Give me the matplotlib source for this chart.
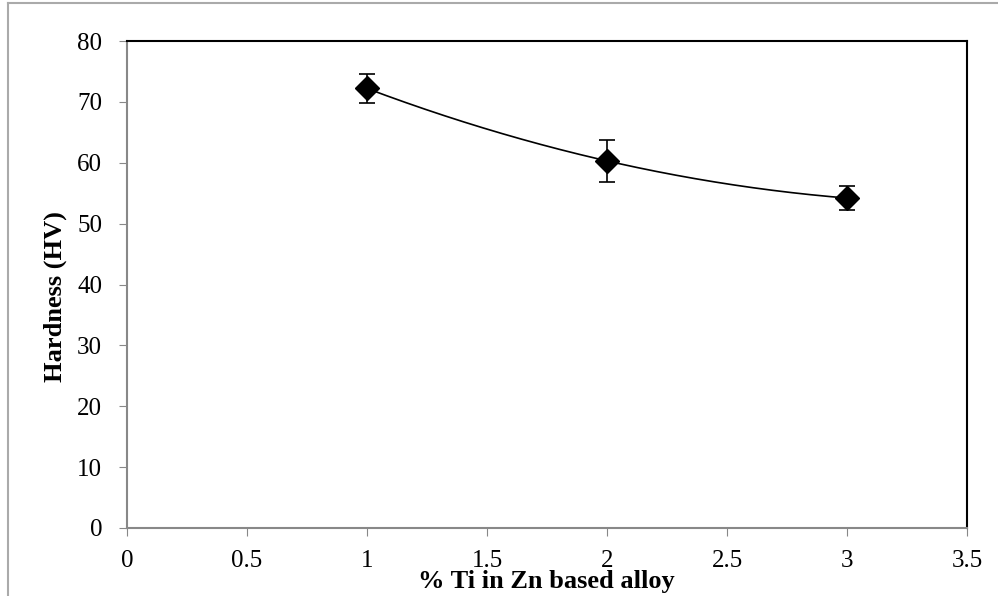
import numpy as np
import matplotlib.pyplot as plt
from matplotlib.lines import Line2D

ti_pct = [1, 2, 3]
hardness = [72.2, 60.3, 54.2]
err_low = [2.4, 3.5, 2.0]
err_high = [2.3, 3.4, 1.9]

x_ticks = [0, 0.5, 1, 1.5, 2, 2.5, 3, 3.5]
x_tick_labels = ['0', '0.5', '1', '1.5', '2', '2.5', '3', '3.5']
y_ticks = [0, 10, 20, 30, 40, 50, 60, 70, 80]

plt.rcParams['font.family'] = ['Liberation Serif', 'DejaVu Serif']

fig = plt.figure(figsize=(9.98, 5.96), dpi=100)
ax = fig.add_axes([0.1273, 0.1141, 0.8417, 0.8171])

# smooth line through the points (like Excel's smoothed line)
coef = np.polyfit(ti_pct, hardness, 2)
xs = np.linspace(ti_pct[0], ti_pct[-1], 200)
ax.plot(xs, np.polyval(coef, xs), color='black', lw=1.2, zorder=2)

ax.errorbar(ti_pct, hardness, yerr=[err_low, err_high], fmt='D', color='black',
            ms=12, ecolor='black', elinewidth=1.2, capsize=6, capthick=1.2, zorder=3)

ax.set_xlim(0, 3.5)
ax.set_ylim(0, 80)
ax.set_xticks(x_ticks)
ax.set_xticklabels(x_tick_labels)
ax.set_yticks(y_ticks)
ax.tick_params(labelsize=18, direction='out', length=6, color='#888888')
ax.tick_params(axis='x', pad=10)
ax.tick_params(axis='y', pad=12)

for side in ['left', 'bottom']:
    ax.spines[side].set_color('#888888')
    ax.spines[side].set_linewidth(1.5)
for side in ['top', 'right']:
    ax.spines[side].set_color('black')
    ax.spines[side].set_linewidth(1.5)

fig.text(0.547, 0.013, '% Ti in Zn based alloy', fontsize=19, fontweight='bold',
         ha='center', va='baseline')
ax.set_ylabel('Hardness (HV)', fontsize=19, fontweight='bold')
ax.yaxis.set_label_coords(-0.071, 0.476)

# outer chart frame
fig.add_artist(Line2D([0.008, 0.008], [0, 0.995], color='#aaaaaa', lw=1.5))
fig.add_artist(Line2D([0.008, 1], [0.995, 0.995], color='#aaaaaa', lw=1.5))

fig.savefig('out.png', dpi=100)
